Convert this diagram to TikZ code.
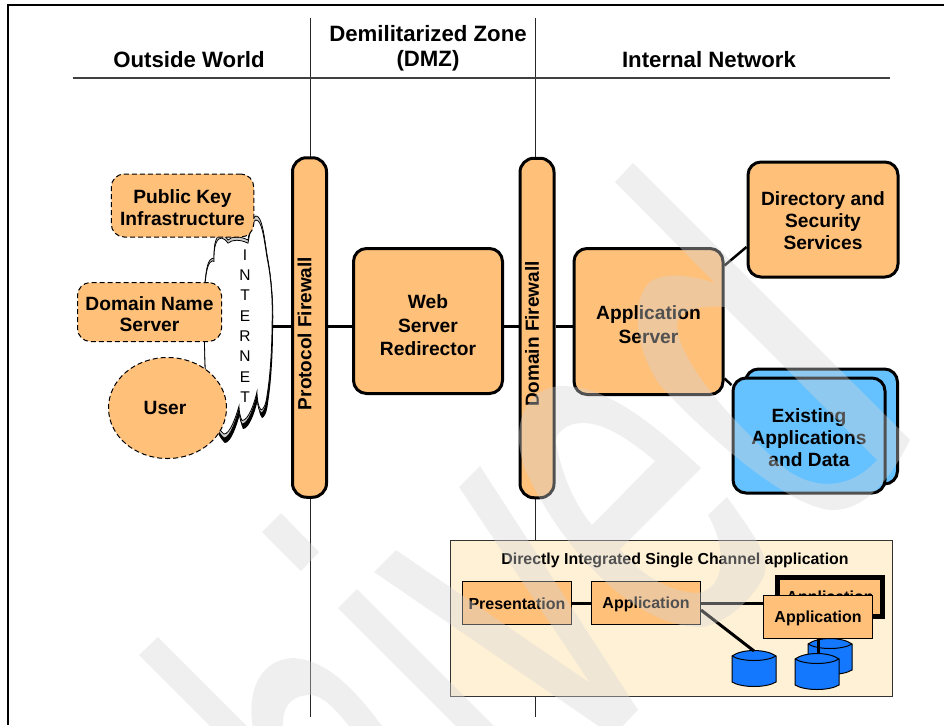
\documentclass[tikz,border=0pt]{standalone}
\usepackage{fontspec}
\setmainfont{Liberation Sans}
\usetikzlibrary{shapes.geometric}
\definecolor{boxorange}{HTML}{FFC07A}
\definecolor{boxblue}{HTML}{66C2FF}
\definecolor{panelcream}{HTML}{FFF1D6}
\definecolor{drumblue}{HTML}{1478FF}
\definecolor{wmgray}{HTML}{D5D5D5}
\newcommand{\toprule}[1]{\rule{0pt}{#1}}
\newcommand{\cloudpath}{(216,240) .. controls (219,232) and (224,234) .. (228,240)
  .. controls (232,236) and (240,236) .. (248,240)
  .. controls (250,228) and (252,217) .. (256,216)
  .. controls (262,216) and (264,235) .. (267,255)
  .. controls (271,275) and (273,300) .. (272,325)
  .. controls (272,350) and (270,380) .. (267,398)
  .. controls (266,408) and (263,413) .. (261,413)
  .. controls (258,410) and (257,400) .. (257,394)
  .. controls (254,408) and (248,424) .. (242,424)
  .. controls (240,420) and (239,414) .. (239,409)
  .. controls (236,420) and (230,438) .. (224,438)
  .. controls (214,430) and (206,400) .. (205,363)
  .. controls (204,335) and (204,300) .. (205,283)
  .. controls (206,270) and (208,262) .. (210,260)
  .. controls (212,258) and (213,258) .. (214,259)
  .. controls (214,252) and (214,245) .. (216,240) -- cycle}
\tikzset{
  hdtext/.style={font=\fontsize{22.2}{25}\selectfont\bfseries,align=center,inner sep=0pt},
  zoneline/.style={draw=black!85,line width=1pt},
  fwbox/.style={draw,fill=boxorange,line width=3pt,rounded corners=14pt,rotate=90,
    minimum width=339.5pt,minimum height=34pt,inner sep=0pt,text height=14pt,text depth=10.5pt,
    font=\fontsize{19}{22}\selectfont\bfseries},
  srvbox/.style={draw,fill=boxorange,line width=3pt,rounded corners=13pt,inner sep=0pt,
    align=center,font=\fontsize{19.2}{22}\selectfont\bfseries},
  extbox/.style={draw,fill=boxorange,line width=1pt,dash pattern=on 5pt off 3pt,rounded corners=13pt,inner sep=0pt,
    align=center,font=\fontsize{19.2}{21.5}\selectfont\bfseries},
  databox/.style={srvbox,fill=boxblue,minimum width=152pt,minimum height=115pt},
  smallbox/.style={draw,fill=boxorange,line width=1pt,inner sep=0pt,text height=13.5pt,
    minimum width=109pt,minimum height=43pt,font=\fontsize{16}{19}\selectfont\bfseries},
  drumpic/.pic={
    \draw[fill=drumblue,line width=1pt] (-22,-12.5) .. controls (-12,-19.8) and (12,-19.8) .. (22,-12.5) -- (22,13.5)
      .. controls (12,19.5) and (-12,19.5) .. (-22,13.5) -- cycle;
    \draw[line width=1pt] (-22,-12.5) .. controls (-12,-6.5) and (12,-6.5) .. (22,-12.5);
    \coordinate (-top) at (0,-17.5);
  },
  link/.style={line width=3pt},
  wmark/.style={fill=wmgray,fill opacity=0.38,even odd rule},
}
\begin{document}
\begin{tikzpicture}[x=1pt,y=-1pt]
\useasboundingbox (0,0) rectangle (944,725);
% frame and zones
\draw[line width=1.5pt] (8,725) -- (8,5) -- (944,5);
\draw[zoneline] (310,18) -- (310,717);
\draw[zoneline] (535,18) -- (535,717);
\draw[line width=1.5pt,draw=black!75] (73,78) -- (890,78);
\node[hdtext] (outside) at (189,60) {Outside World};
\node[hdtext] (dmz) at (428,48) {Demilitarized Zone\\(DMZ)};
\node[hdtext] (internal) at (709,60) {Internal Network};
% cloud
\fill[black,shift={(1,5)}] \cloudpath;
\draw[fill=black!20,line width=0.8pt] \cloudpath;
\begin{scope}[shift={(0,11.8)},yscale=0.964]
\draw[fill=white,line width=0.8pt] \cloudpath;
\end{scope}
\foreach \ch [count=\i] in {I,N,T,E,R,N,E,T}
  \node[font=\fontsize{15.5}{18}\selectfont,inner sep=0pt] (inet\i) at (245,{234.7+20.3*\i}) {\ch};
\coordinate (inet) at (272,326);
% outside world
\node[extbox,minimum width=142.5pt,minimum height=63pt] (pki) at (182.5,205.5) {\toprule{18pt}Public Key\\Infrastructure};
\node[extbox,minimum width=144pt,minimum height=59pt] (dns) at (149.5,312) {\toprule{18pt}Domain Name\\Server};
\node[draw,fill=boxorange,line width=1pt,dash pattern=on 5pt off 3pt,ellipse,inner sep=0pt,minimum width=118pt,minimum height=101pt,
  font=\fontsize{19.2}{22}\selectfont\bfseries] (user) at (167.5,408) {User\hspace*{5pt}};
% firewalls
\node[fwbox] (protocol) at (309.5,327.5) {Protocol Firewall\hspace*{12pt}};
\node[fwbox] (domain) at (537,328) {Domain Firewall\hspace*{12pt}};
% servers
\node[srvbox,minimum width=149pt,minimum height=145pt,font=\fontsize{19.2}{23.5}\selectfont\bfseries] (web) at (428,321) {\toprule{23pt}Web\\Server\\Redirector};
\node[srvbox,minimum width=149pt,minimum height=146pt,font=\fontsize{19.2}{24}\selectfont\bfseries] (app) at (648.5,321.5) {\toprule{20pt}Application\\Server};
\node[srvbox,minimum width=150pt,minimum height=115pt] (dir) at (823,219.5) {\toprule{16pt}Directory and\\Security\\Services};
\node[databox] (backdata) at (821.5,426.5) {};
\node[databox] (data) at (809,435.5) {\toprule{18pt}Existing\\Applications\\and Data};
\draw[link] (inet) -- (inet -| protocol.north);
\draw[link] (inet -| protocol.south) -- (inet -| web.west);
\draw[link] (inet -| web.east) -- (inet -| domain.north);
\draw[link] (inet -| domain.south) -- (inet -| app.west);
\draw[line width=2.5pt] ([yshift=56pt]app.east) -- ([yshift=-27.5pt]dir.west);
\draw[line width=2.5pt] ([yshift=-57pt]app.east) -- ([yshift=50.5pt]data.west);
% panel
\node[draw=black!80,fill=panelcream,line width=1.5pt,minimum width=442pt,minimum height=156pt,inner sep=0pt] (panel) at (671.5,618.5) {};
\node[font=\fontsize{15.9}{19}\selectfont\bfseries,inner sep=0pt] (ptitle) at (675,560) {Directly Integrated Single Channel application};
\node[smallbox] (pres) at (517,603) {Presentation};
\node[smallbox] (papp) at (646,603) {Application};
\node[smallbox,line width=5pt,minimum width=105pt,minimum height=39pt] (backapp) at (830,597) {Application};
\pic (drumb) at (830,656.5) {drumpic};
\node[smallbox] (frontapp) at (818,617) {Application};
\draw[link] (pres) -- (papp);
\draw[link] (papp.east) -- (papp.east -| frontapp.west);
\pic (drumc) at (817,671.5) {drumpic};
\pic (drumd) at (754,668.5) {drumpic};
\draw[link] (frontapp.south) -- (frontapp.south |- drumc-top);
\draw[link] ([yshift=-7pt]papp.east) -- (drumd-top);
% watermark
\begin{scope}
\clip (0,0) rectangle (944,725);
\fill[wmark]
  (139,655) -- (158,637) -- (258,737) -- (221,737) -- cycle
  (255,737) .. controls (245,700) and (255,660) .. (293,658) .. controls (330,660) and (360,695) .. (390,737)
    -- (358,737) .. controls (340,715) and (325,695) .. (310,695) .. controls (290,695) and (278,710) .. (285,737) -- cycle
  (281,513) -- (319,552) -- (301,571) -- (262,532) -- cycle
  (357,589) -- (338,608) -- (467,737) -- (505,737) -- cycle
  (374,572) -- (396,550) -- (590,683) -- (459,487) -- (480,466) -- (638,710) -- (613,736) -- cycle
  (701,468) -- (620,549) .. controls (640,575) and (670,592) .. (697,593) .. controls (725,590) and (728,550) .. (708,515)
    -- (727,497) .. controls (750,530) and (775,560) .. (762,580) .. controls (745,610) and (715,627) .. (700,627)
    .. controls (640,627) and (570,560) .. (530,480) .. controls (505,430) and (525,386) .. (563,386)
    .. controls (610,386) and (660,430) .. (701,468) -- cycle
  (655,461) .. controls (630,440) and (605,423) .. (583,423) .. controls (565,423) and (552,435) .. (557,447)
    .. controls (562,475) and (575,505) .. (592,525) -- cycle
  (615,182) -- (633,163) -- (910,440) .. controls (890,480) and (865,510) .. (833,510)
    .. controls (790,510) and (700,430) .. (660,385) .. controls (635,350) and (630,300) .. (650,282)
    .. controls (665,272) and (690,275) .. (715,283) -- cycle
  (725,307) .. controls (700,305) and (675,310) .. (677,327) .. controls (680,365) and (740,430) .. (787,470)
    .. controls (815,490) and (850,490) .. (877,460) -- cycle;
\end{scope}
\end{tikzpicture}
\end{document}
